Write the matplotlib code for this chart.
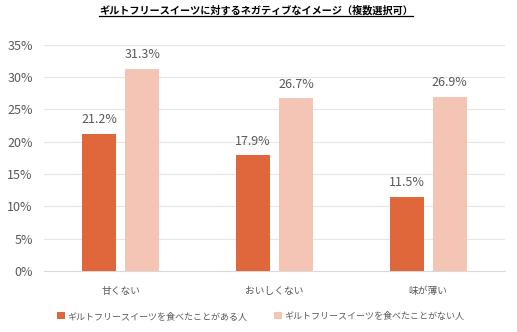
import numpy as np
import matplotlib
matplotlib.use('Agg')
import matplotlib.pyplot as plt
from matplotlib.lines import Line2D

plt.rcParams['font.family'] = ['Noto Sans CJK JP', 'DejaVu Sans']

# data
categories = ['甘くない', 'おいしくない', '味が薄い']
eaten = [21.2, 17.9, 11.5]
not_eaten = [31.3, 26.7, 26.9]
series_names = ['ギルトフリースイーツを食べたことがある人', 'ギルトフリースイーツを食べたことがない人']
yticks = [0, 5, 10, 15, 20, 25, 30, 35]
title = 'ギルトフリースイーツに対するネガティブなイメージ（複数選択可）'

c_dark = '#E0673C'
c_light = '#F4C4B4'
c_text = '#595959'

fig = plt.figure(figsize=(5.17, 3.32), dpi=100)
ax = fig.add_axes([0.085, 0.184, 0.892, 0.681])

x = np.arange(len(categories))
w = 0.22
b1 = ax.bar(x - 0.14, eaten, w, color=c_dark, label=series_names[0], zorder=3)
b2 = ax.bar(x + 0.14, not_eaten, w, color=c_light, label=series_names[1], zorder=3)

for bars in (b1, b2):
    for r in bars:
        ax.text(r.get_x() + r.get_width() / 2, r.get_height() + 1.2, f'{r.get_height():.1f}%',
                ha='center', va='bottom', fontsize=9, color=c_text)

ax.set_xlim(-0.5, 2.5)
ax.set_ylim(0, 35)
ax.set_yticks(yticks)
ax.set_yticklabels([f'{v}%' for v in yticks])
ax.set_xticks(x)
ax.set_xticklabels(categories, fontsize=7)
ax.tick_params(length=0, colors=c_text)
ax.tick_params(axis='y', labelsize=9, pad=8)
ax.tick_params(axis='x', pad=11)
ax.grid(axis='y', color='#E6E6E6', linewidth=0.8, zorder=0)
for s in ['top', 'right', 'left']:
    ax.spines[s].set_visible(False)
ax.spines['bottom'].set_color('#D9D9D9')

fig.legend(handles=[b1, b2], loc='center', bbox_to_anchor=(0.504, 0.048), ncol=2, frameon=False,
           fontsize=6.5, handlelength=0.9, handleheight=0.9, handletextpad=0.2, columnspacing=3.0,
           labelcolor=c_text)

t = fig.text(0.496, 0.968, title, ha='center', va='center', fontsize=7.3, fontweight='bold', color='black')

# underline the title
fig.canvas.draw()
bb = t.get_window_extent().transformed(fig.transFigure.inverted())
fig.add_artist(Line2D([bb.x0, bb.x1], [1 - 15.5 / 332] * 2, color='black', linewidth=0.9,
                      transform=fig.transFigure))

fig.savefig('out.png', dpi=100)
